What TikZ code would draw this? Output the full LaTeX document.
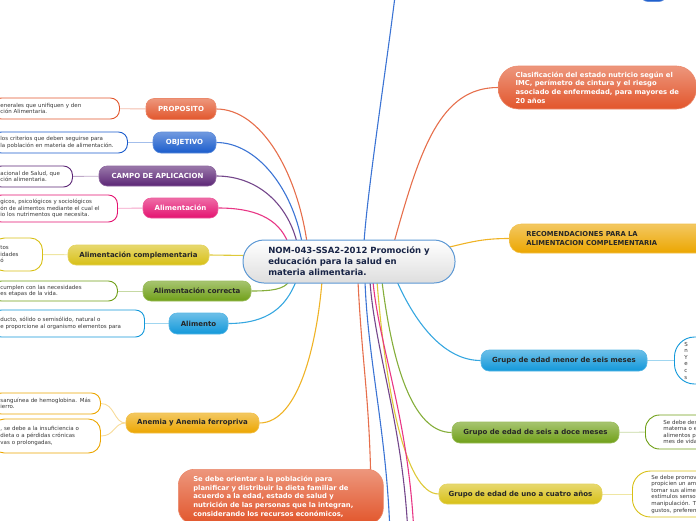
\documentclass[tikz,border=0pt]{standalone}
\usepackage{fontspec}
\setmainfont{DejaVu Sans}
\usetikzlibrary{calc,backgrounds}

\definecolor{naranja}{RGB}{226,86,44}
\definecolor{azul}{RGB}{26,92,204}
\definecolor{morado}{RGB}{92,38,118}
\definecolor{rosa}{RGB}{228,18,112}
\definecolor{amarillo}{RGB}{216,192,22}
\definecolor{verde}{RGB}{112,160,24}
\definecolor{celeste}{RGB}{18,152,218}
\definecolor{ambar}{RGB}{236,166,0}
\definecolor{borde}{RGB}{92,152,212}
\definecolor{tinta}{RGB}{24,36,70}

\begin{document}
\begin{tikzpicture}[x=1pt,y=-1pt,
  tema/.style={rounded corners=8pt,top color=#1!62!white,bottom color=#1,
               draw=#1!70!white,line width=0.6pt,font=\fontsize{7}{8}\selectfont\bfseries,
               minimum height=20pt,inner sep=0pt,text=black!85},
  nota/.style={draw=#1,line width=0.9pt,fill=white,rounded corners=9pt,
               font=\fontsize{5.5}{6.6}\selectfont,text=black!78,align=left,
               inner xsep=8pt,inner ysep=2pt},
  bloque/.style={rounded corners=16pt,top color=#1!62!white,bottom color=#1,
               draw=#1!70!white,line width=0.6pt,font=\fontsize{6.8}{8.6}\selectfont\bfseries,
               align=left},
  rama/.style={draw=#1!85!white,line width=1.1pt},
  enlace/.style={draw=#1!40!white,line width=0.9pt}]
\useasboundingbox (0,0) rectangle (696,520);
\node[draw=borde,line width=1pt,top color=white,bottom color=black!13,rounded corners=21pt,
      minimum width=212pt,minimum height=43pt,align=left,text=tinta,
      font=\fontsize{8.5}{11}\selectfont\bfseries] (cen) at (349,261.5)
  {NOM-043-SSA2-2012 Promoción y\\educación para la salud en\\materia alimentaria.};
\node[tema=naranja,text=white,minimum width=70pt,minimum height=21pt] (prop) at (181,109) {PROPOSITO};
\node[tema=azul,text=white,minimum width=63pt,minimum height=21pt] (obj) at (184.5,142.5) {OBJETIVO};
\node[tema=morado,text=white,minimum width=117pt] (campo) at (157.5,176) {CAMPO DE APLICACION};
\node[tema=rosa,text=white,minimum width=75pt] (alim) at (180.5,208) {Alimentación};
\node[tema=amarillo,minimum width=141pt] (compl) at (138.5,255) {Alimentación complementaria};
\node[tema=verde,minimum width=108pt] (corr) at (197,291) {Alimentación correcta};
\node[tema=celeste,minimum width=59pt,minimum height=21pt] (alimento) at (198.5,323.5) {Alimento};
\node[tema=ambar,minimum width=133pt] (anemia) at (192.5,423) {Anemia y Anemia ferropriva};
\node[nota=naranja,anchor=west,text width=111pt,minimum height=21pt] (nprop) at (-8,108.5)
  {enerales que unifiquen y den\\ción Alimentaria.};
\node[nota=azul,anchor=west,text width=119pt,minimum height=21pt] (nobj) at (-8,142.5)
  {los criterios que deben seguirse para\\ la población en materia de alimentación.};
\node[nota=morado,anchor=west,text width=64pt,minimum height=21pt] (ncampo) at (-8,176.5)
  {acional de Salud, que\\ción alimentaria.};
\node[nota=rosa,anchor=west,text width=109pt,minimum height=27pt] (nalim) at (-8,208.5)
  {gicos, psicológicos y sociológicos\\ón de alimentos mediante el cual el\\io los nutrimentos que necesita.};
\node[nota=amarillo,anchor=west,text width=34pt,minimum height=33pt,rounded corners=12pt] (ncompl) at (-8,254.5)
  {tos\\idades\\ó};
\node[nota=verde,anchor=west,text width=109pt,minimum height=20pt] (ncorr) at (-8,291)
  {cumplen con las necesidades\\es etapas de la vida.};
\node[nota=celeste,anchor=west,text width=136pt,minimum height=27pt] (nalimento) at (-8,323.5)
  {ducto, sólido o semisólido, natural o\\e proporcione al organismo elementos para};
\node[nota=ambar,anchor=west,text width=92pt,minimum height=21pt] (nanem1) at (-8,403.5)
  {sanguínea de hemoglobina. Más\\ierro.};
\node[nota=ambar,anchor=west,text width=92pt,minimum height=34pt,rounded corners=12pt] (nanem2) at (-8,436)
  {, se debe a la insuficiencia o\\ dieta o a pérdidas crónicas\\vas o prolongadas,};
\node[tema=azul,minimum width=27pt,minimum height=22pt] (arriba) at (653.5,-9.5) {};
\node[bloque=naranja,text=white,anchor=west,minimum width=198pt,minimum height=43pt,rounded corners=20pt] (clasif) at (498,87.5)
  {Clasificación del estado nutricio según el\\IMC, perímetro de cintura y el riesgo\\asociado de enfermedad, para mayores de\\20 años};
\node[bloque=ambar,text=black!85,anchor=west,minimum width=204pt,minimum height=29pt,rounded corners=12pt,
      text width=170pt,inner xsep=17pt] (recom) at (509,238.5)
  {RECOMENDACIONES PARA LA\\ALIMENTACION COMPLEMENTARIA};
\node[bloque=naranja,text=white,anchor=north west,text width=175pt,inner xsep=15pt,inner ysep=7pt] (orient) at (178,469)
  {Se debe orientar a la población para\\planificar y distribuir la dieta familiar de\\acuerdo a la edad, estado de salud y\\nutrición de las personas que la integran,\\considerando los recursos económicos,};
\node[tema=celeste,minimum width=166pt,minimum height=21pt] (gmenor) at (564,360.5) {Grupo de edad menor de seis meses};
\node[tema=verde,minimum width=167pt,minimum height=21pt] (gseis) at (535.5,432.5) {Grupo de edad de seis a doce meses};
\node[tema=amarillo,minimum width=163pt] (guno) at (520.5,494) {Grupo de edad de uno a cuatro años};
\node[nota=celeste,anchor=west,text width=80pt,inner xsep=10pt,minimum height=47pt,rounded corners=20pt] (nmenor) at (674,360.5)
  {S\\n\\Y\\e\\c\\s};
\node[nota=verde,anchor=west,text width=80pt,inner xsep=18pt,minimum height=34pt,rounded corners=14pt] (nseis) at (645,432)
  {Se debe des\\materna o e\\alimentos p\\mes de vida};
\node[nota=amarillo,anchor=west,text width=80pt,inner xsep=19pt,minimum height=46pt,rounded corners=18pt] (nuno) at (632,494)
  {Se debe promov\\propicien un am\\tomar sus alime\\estímulos senso\\manipulación. T\\gustos, preferen};
\coordinate (sube) at (398,-30);
\coordinate (bajaazul) at (390,535);
\coordinate (bajamorado) at (408,535);
\coordinate (bajarosa) at (414,535);
\begin{scope}[on background layer]
\draw[rama=naranja] (prop.east) .. controls +(45,0) and +(-10,-70) .. ($(cen.north)+(-42,3)$);
\draw[rama=azul] (obj.east) .. controls +(40,0) and +(-10,-55) .. ($(cen.north)+(-47,3)$);
\draw[rama=morado] (campo.east) .. controls +(40,0) and +(-10,-40) .. ($(cen.north)+(-52,3)$);
\draw[rama=rosa] (alim.east) .. controls +(35,0) and +(-10,-25) .. ($(cen.north)+(-61,3)$);
\draw[rama=amarillo] (compl.east) -- ($(cen.west)+(4,-6)$);
\draw[rama=verde] (corr.east) .. controls +(20,0) and +(-5,8) .. ($(cen.south)+(-60,-2)$);
\draw[rama=celeste] (alimento.east) .. controls +(40,0) and +(-10,25) .. ($(cen.south)+(-53,-2)$);
\draw[rama=ambar] (anemia.east) .. controls +(40,0) and +(-5,60) .. ($(cen.south)+(-27,-2)$);
\draw[rama=azul] ($(cen.north)+(15,3)$) .. controls +(4,-60) and +(-6,60) .. (sube);
\draw[rama=naranja] ($(cen.north)+(45,3)$) .. controls +(26,-93) and +(-58,0) .. (clasif.west);
\draw[rama=ambar] ($(cen.east)+(-8,-14)$) .. controls +(25,-6) and +(-25,0) .. (recom.west);
\draw[rama=celeste] ($(cen.south)+(48,-2)$) .. controls +(20,45) and +(-35,0) .. (gmenor.west);
\draw[rama=verde] ($(cen.south)+(33,-2)$) .. controls +(10,80) and +(-40,0) .. (gseis.west);
\draw[rama=amarillo] ($(cen.south)+(28,-2)$) .. controls +(8,100) and +(-35,0) .. (guno.west);
\draw[rama=naranja] ($(cen.south)+(9,-2)$) .. controls +(4,80) and +(-2,-80) .. ($(orient.north east)+(-13,3)$);
\draw[rama=azul] ($(cen.south)+(16,-2)$) .. controls +(3,80) and +(-3,-100) .. (bajaazul);
\draw[rama=morado] ($(cen.south)+(21,-2)$) .. controls +(5,70) and +(-5,-110) .. (bajamorado);
\draw[rama=rosa] ($(cen.south)+(24,-2)$) .. controls +(6,65) and +(-5,-115) .. (bajarosa);
\draw[enlace=naranja] (nprop) -- (prop);
\draw[enlace=azul] (nobj) -- (obj);
\draw[enlace=morado] (ncampo) -- (campo);
\draw[enlace=rosa] (nalim) -- (alim);
\draw[enlace=amarillo] (ncompl) -- (compl);
\draw[enlace=verde] (ncorr) -- (corr);
\draw[enlace=celeste] (nalimento) -- (alimento);
\draw[enlace=ambar] (nanem1.east) .. controls +(14,0) and +(-12,0) .. (anemia.west);
\draw[enlace=ambar] (nanem2.east) .. controls +(14,0) and +(-12,0) .. (anemia.west);
\draw[enlace=celeste] (gmenor) -- (nmenor);
\draw[enlace=verde] (gseis) -- (nseis);
\draw[enlace=amarillo] (guno) -- (nuno);
\end{scope}
\end{tikzpicture}
\end{document}
